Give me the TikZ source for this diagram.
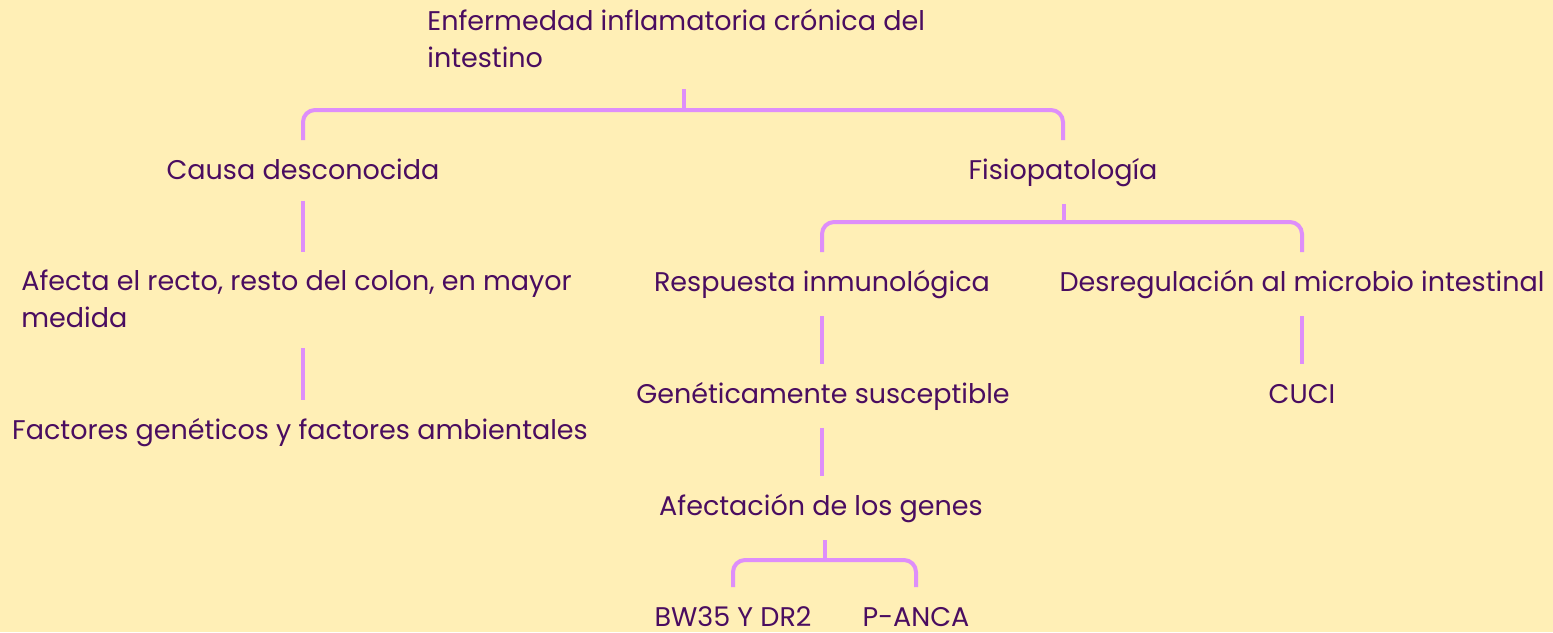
\documentclass[tikz,border=0pt]{standalone}
\usepackage{fontspec}
\setmainfont{Poppins}
\definecolor{paper}{RGB}{255,239,182}
\definecolor{ink}{RGB}{74,13,96}
\definecolor{lilac}{RGB}{222,142,250}
\newcommand{\sr}{\rule[-2pt]{0pt}{13pt}}
\tikzset{
  lbl/.style={inner xsep=0pt, inner ysep=8.5pt, text=ink,
    font=\fontsize{13.5}{18.5}\selectfont,
    execute at begin node=\sr, execute at end node=\sr},
  link/.style={draw=lilac, line width=2pt, rounded corners=6pt}
}
\begin{document}
\begin{tikzpicture}[x=0.5pt, y=0.5pt]
            \fill[paper] (0,0) rectangle (1553,-632);
            \useasboundingbox (0,0) rectangle (1553,-632);

            % Text of the map
            \node[lbl, anchor=north west, align=left] (title) at (427,8) {Enfermedad inflamatoria crónica del\\intestino};
            \node[lbl, anchor=north] (causa) at (303,-140) {Causa desconocida};
            \node[lbl, anchor=north west, align=left] (afecta) at (21,-252) {Afecta el recto, resto del colon, en mayor\\medida};
            \node[lbl, anchor=north] (factores) at (300,-400) {Factores genéticos y factores ambientales};
            \node[lbl, anchor=north] (fisio) at (1063,-140) {Fisiopatología};
            \node[lbl, anchor=north] (resp) at (822,-252) {Respuesta inmunológica};
            \node[lbl, anchor=north] (desreg) at (1302,-252) {Desregulación al microbio intestinal};
            \node[lbl, anchor=north] (genet) at (823,-364) {Genéticamente susceptible};
            \node[lbl, anchor=north] (afect) at (821,-476) {Afectación de los genes};
            \node[lbl, anchor=north] (bw) at (733,-587) {BW35 Y DR2};
            \node[lbl, anchor=north] (panca) at (916,-587) {P-ANCA};
            \node[lbl, anchor=north] (cuci) at (1302,-364) {CUCI};

            % Junctions of the brackets
            \coordinate (j1) at (684,-110);
            \coordinate (j2) at (1064,-222);
            \coordinate (j3) at (825,-560);

            \draw[link] (title.south -| j1) -- (j1);
            \draw[link] (causa.north) |- (j1) -| (fisio.north);
            \draw[link] (causa.south) -- (causa.south |- afecta.north);
            \draw[link] (afecta.south -| causa) -- (factores.north -| causa);

            \draw[link] (fisio.south -| j2) -- (j2);
            \draw[link] (resp.north) |- (j2) -| (desreg.north);
            \draw[link] (resp.south) -- (resp.south |- genet.north);
            \draw[link] (genet.south -| resp) -- (afect.north -| resp);
            \draw[link] (desreg.south) -- (cuci.north -| desreg);

            \draw[link] (afect.south -| j3) -- (j3);
            \draw[link] (bw.north) |- (j3) -| (panca.north);
\end{tikzpicture}
\end{document}
